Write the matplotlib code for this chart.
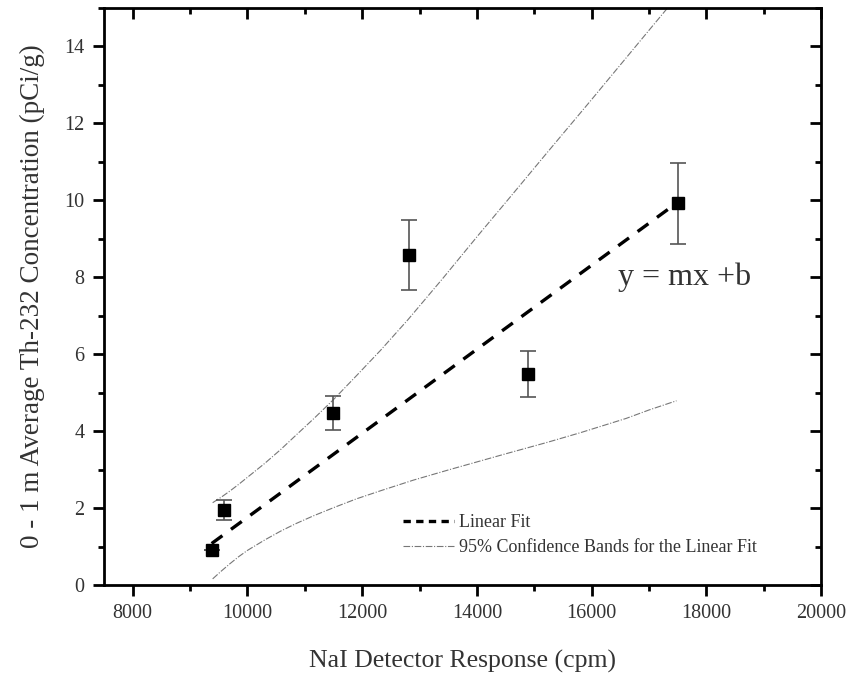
import matplotlib
matplotlib.use("Agg")
import matplotlib.pyplot as plt
from matplotlib.ticker import MultipleLocator
from matplotlib.lines import Line2D

plt.rcParams['font.family'] = ['Liberation Serif', 'DejaVu Serif']

# Data
nai_cpm = [9376, 9590, 11500, 12820, 14900, 17510]
th232 = [0.91, 1.95, 4.47, 8.59, 5.49, 9.92]
th232_err = [0.0, 0.25, 0.45, 0.91, 0.6, 1.05]

# Linear fit parameters (y = m x + b)
fit_m = 0.001092
fit_b = -9.16
fit_x = [9376, 17510]

# 95% confidence bands
upper_x = [9394, 9550, 9700, 9850, 10000, 10300, 10578, 10850, 11153, 11500,
           11900, 12320, 12800, 13400, 14000, 14600, 15230, 16000, 16600, 17000, 17480]
upper_y = [2.14, 2.29, 2.45, 2.62, 2.80, 3.16, 3.52, 3.90, 4.32, 4.82,
           5.44, 6.10, 6.90, 7.96, 9.05, 10.12, 11.25, 12.62, 13.70, 14.42, 15.28]
lower_x = [9394, 9550, 9700, 9850, 10000, 10300, 10578, 10850, 11153, 11500,
           11900, 12320, 12900, 13500, 14000, 14500, 15230, 15805, 16600, 17000, 17480]
lower_y = [0.16, 0.37, 0.56, 0.74, 0.90, 1.17, 1.40, 1.60, 1.80, 2.01,
           2.24, 2.45, 2.73, 2.99, 3.20, 3.41, 3.71, 3.96, 4.33, 4.55, 4.79]

fig = plt.figure(figsize=(8.54, 6.79), dpi=100)
ax = fig.add_axes([0.1218, 0.1384, 0.8396, 0.8498])

band_kw = dict(color='#777777', lw=0.8, ls=(0, (6, 1.5, 1, 1.5)))
ax.plot(upper_x, upper_y, **band_kw)
ax.plot(lower_x, lower_y, **band_kw)

fy = [fit_m * x + fit_b for x in fit_x]
ax.plot(fit_x, fy, color='black', lw=2.4, ls=(0, (4, 3.2)))

ax.errorbar(nai_cpm, th232, yerr=th232_err, fmt='s', color='black',
            ms=9, ecolor='#555555', elinewidth=1.2, capsize=6, capthick=1.2,
            zorder=5)

ax.set_xlim(7500, 20000)
ax.set_ylim(0, 15)
ax.xaxis.set_major_locator(MultipleLocator(2000))
ax.xaxis.set_minor_locator(MultipleLocator(1000))
ax.yaxis.set_major_locator(MultipleLocator(2))
ax.yaxis.set_minor_locator(MultipleLocator(1))

for s in ax.spines.values():
    s.set_linewidth(2.0)

ax.tick_params(which='major', direction='out', length=8, width=2,
               labelsize=14.5, labelcolor='#333333', pad=6)
ax.tick_params(which='minor', direction='out', length=4, width=2)

secx = ax.secondary_xaxis('top')
secx.xaxis.set_major_locator(MultipleLocator(2000))
secx.xaxis.set_minor_locator(MultipleLocator(1000))
secx.tick_params(which='major', direction='in', length=8, width=2, labeltop=False)
secx.tick_params(which='minor', direction='in', length=4, width=2)
secx.spines['top'].set_visible(False)

secy = ax.secondary_yaxis('right')
secy.yaxis.set_major_locator(MultipleLocator(2))
secy.yaxis.set_minor_locator(MultipleLocator(1))
secy.tick_params(which='major', direction='in', length=8, width=2, labelright=False)
secy.tick_params(which='minor', direction='in', length=4, width=2)
secy.spines['right'].set_visible(False)

ax.set_xlabel('NaI Detector Response (cpm)', fontsize=18.5, color='#333333', labelpad=19)
ax.set_ylabel('0 - 1 m Average Th-232 Concentration (pCi/g)', fontsize=19.5,
              color='#333333', labelpad=14)

ax.text(16460, 8.0, 'y = mx +b', fontsize=23, color='#333333', va='center', ha='left')

handles = [Line2D([], [], color='black', lw=2.4, ls=(0, (2.2, 1.6))),
           Line2D([], [], **band_kw)]
leg = ax.legend(handles, ['Linear Fit', '95% Confidence Bands for the Linear Fit'],
                loc='lower left', bbox_to_anchor=(0.395, 0.022), frameon=False,
                fontsize=13, handlelength=2.8, handletextpad=0.25, labelspacing=0.45)
for t in leg.get_texts():
    t.set_color('#333333')

fig.savefig('out.png', dpi=100)
